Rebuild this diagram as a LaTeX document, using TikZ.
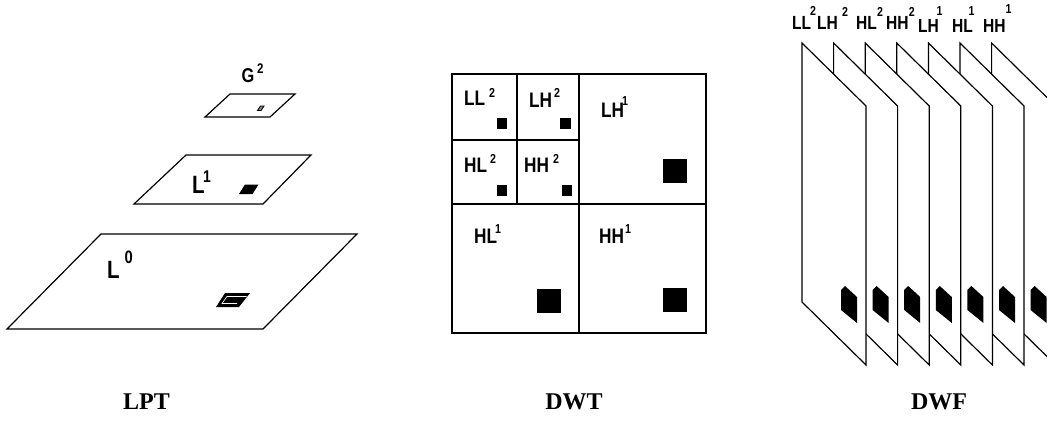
\documentclass[tikz,border=0pt]{standalone}
\usepackage{fontspec}
\setmainfont{Liberation Serif}
\newfontfamily\narrowsans[FakeStretch=0.82]{Liberation Sans}
\begin{document}
\begin{tikzpicture}[x=1pt,y=-1pt,line width=1.2pt,line join=miter,
  lab/.style={inner sep=0pt,anchor=base west,
    font=\narrowsans\bfseries\fontsize{#1}{#1}\selectfont},
  lab/.default=21,
  title/.style={inner sep=0pt,anchor=base,
    font=\bfseries\fontsize{24}{24}\selectfont},
  plane/.style={draw=black,fill=white},
  blob/.style={fill=black,draw=none}]
\useasboundingbox (0,0) rectangle (1047,421);

% ---------------- Laplacian pyramid ----------------
\draw[plane] (205,117) -- (270,117) -- (295,94) -- (230,94) -- cycle;
\draw[plane] (134,204) -- (263,204) -- (311,155) -- (186,155) -- cycle;
\draw[plane] (7,329) -- (263,329) -- (357,234) -- (101,234) -- cycle;

% region marks on each level
\draw[line width=0.9pt,fill=black!45] (257.5,110.5) -- (260.5,106) -- (264,106) -- (261,110.5) -- cycle;
\fill (239,194) -- (245,184.5) -- (258.5,184.5) -- (252.5,194) -- cycle;
\fill (216,307) -- (225,293) -- (250,293) -- (239,307) -- cycle;
\draw[white,line width=0.6pt] (246.5,296.5) -- (227,296.5) -- (222,303.5) -- (237,303.5);

\node[lab=20] (g) at (241,82) {G};
\node[lab=14] (gs) at (256.5,73) {2};
\node[lab=25] (l1) at (191.5,193) {L};
\node[lab=17] (l1s) at (202.5,182) {1};
\node[lab=25] (l0) at (106.5,278) {L};
\node[lab=18] (l0s) at (124,263) {0};

% ---------------- wavelet decomposition ----------------
\draw (452,74) rectangle (706,333);
\draw (579,74) -- (579,333);
\draw (452,204) -- (707,204);
\draw (517,74) -- (517,204);
\draw (452,140) -- (580,140);

\fill[blob] (497,118) rectangle (507,129);
\fill[blob] (560,118) rectangle (571,129);
\fill[blob] (497,185) rectangle (507,196);
\fill[blob] (562,185) rectangle (572,196);
\fill[blob] (663,159) rectangle (687,183);
\fill[blob] (537,289) rectangle (561,313);
\fill[blob] (663,288) rectangle (687,312);

\node[lab] (ll2) at (463.5,105) {LL};
\node[lab=13] (ll2s) at (488.5,97) {2};
\node[lab] (lh2) at (528.5,107) {LH};
\node[lab=13] (lh2s) at (553.5,97) {2};
\node[lab] (lh1) at (600.5,117) {LH};
\node[lab=13] (lh1s) at (621.5,105) {1};
\node[lab] (hl2) at (463.5,172) {HL};
\node[lab=13] (hl2s) at (489.5,163) {2};
\node[lab] (hh2) at (523.5,172) {HH};
\node[lab=13] (hh2s) at (552.5,163) {2};
\node[lab] (hl1) at (473.5,243) {HL};
\node[lab=13] (hl1s) at (494.5,233) {1};
\node[lab] (hh1) at (598.5,243) {HH};
\node[lab=13] (hh1s) at (624.5,233) {1};

% ---------------- wavelet frame: stack of sub-band planes ----------------
\foreach \i in {6,5,...,0}{
  \pgfmathsetmacro{\xo}{802+31.6*\i}
  \draw[plane] (\xo,43) -- (\xo+64,106) -- (\xo+64,365) -- (\xo,302) -- cycle;
  \fill (\xo+39,290) -- (\xo+43,286) -- (\xo+55,297) -- (\xo+55,323) -- (\xo+39,310) -- cycle;
}

\node[lab=19] (fll2) at (791.5,29) {LL};
\node[lab=13] (fll2s) at (809.5,15) {2};
\node[lab=19] (flh2) at (816.5,29) {LH};
\node[lab=13] (flh2s) at (841.5,16) {2};
\node[lab=19] (fhl2) at (855.5,29) {HL};
\node[lab=13] (fhl2s) at (876.5,16) {2};
\node[lab=19] (fhh2) at (885.5,29) {HH};
\node[lab=13] (fhh2s) at (908.2,16) {2};
\node[lab=19] (flh1) at (917.5,32) {LH};
\node[lab=13] (flh1s) at (936,15) {1};
\node[lab=19] (fhl1) at (951.5,32) {HL};
\node[lab=13] (fhl1s) at (968,15) {1};
\node[lab=19] (fhh1) at (982.5,32) {HH};
\node[lab=13] (fhh1s) at (1005,13) {1};

% ---------------- captions ----------------
\node[title] (lpt) at (146.5,409) {LPT};
\node[title] (dwt) at (574,409) {DWT};
\node[title] (dwf) at (939,409) {DWF};
\end{tikzpicture}
\end{document}
